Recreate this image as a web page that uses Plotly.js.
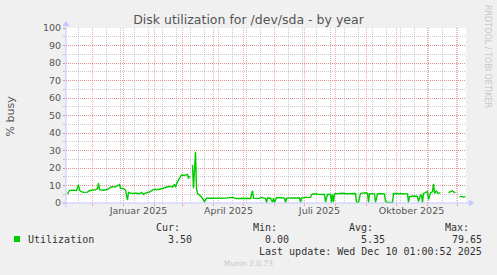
<!DOCTYPE html>
<html>
<head>
<meta charset="utf-8">
<script src="https://cdn.plot.ly/plotly-3.0.1.min.js"></script>
<style>
  html, body { margin: 0; padding: 0; background: #f0f0f0; }
  #chart { width: 497px; height: 275px; }
</style>
</head>
<body>
<div id="chart"></div>
<script>
// Disk busy percentage for /dev/sda, one sample per day (null = no data)
const day = [
  '2024-11-06','2024-11-07','2024-11-08','2024-11-12','2024-11-15','2024-11-17','2024-11-18','2024-11-20',
  '2024-11-22','2024-11-26','2024-11-28','2024-12-01','2024-12-04','2024-12-06','2024-12-07','2024-12-08',
  '2024-12-12','2024-12-16','2024-12-18','2024-12-20','2024-12-24','2024-12-26','2024-12-28','2024-12-29',
  '2025-01-01','2025-01-03','2025-01-05','2025-01-06','2025-01-09','2025-01-14','2025-01-17','2025-01-19',
  '2025-01-21','2025-01-23','2025-01-27','2025-01-31','2025-02-05','2025-02-09','2025-02-12','2025-02-14',
  '2025-02-17','2025-02-19','2025-02-21','2025-02-22','2025-02-24','2025-02-26','2025-02-28','2025-03-03',
  '2025-03-05','2025-03-06','2025-03-07','2025-03-08','2025-03-10','2025-03-11','2025-03-12','2025-03-14',
  '2025-03-15','2025-03-16','2025-03-20','2025-03-23','2025-03-25','2025-03-30','2025-04-06','2025-04-13',
  '2025-04-20','2025-04-24','2025-04-30','2025-05-05','2025-05-08','2025-05-10','2025-05-11','2025-05-16',
  '2025-05-19','2025-05-23','2025-05-24','2025-05-25','2025-05-28','2025-05-30','2025-05-31','2025-06-01',
  '2025-06-03','2025-06-07','2025-06-11','2025-06-12','2025-06-13','2025-06-18','2025-06-23','2025-06-26',
  '2025-06-27','2025-06-28','2025-07-02','2025-07-07','2025-07-08','2025-07-10','2025-07-15','2025-07-19',
  '2025-07-21','2025-07-22','2025-07-24','2025-07-27','2025-07-28','2025-07-29','2025-07-30','2025-07-31',
  '2025-08-03','2025-08-08','2025-08-12','2025-08-16','2025-08-21','2025-08-22','2025-08-24','2025-08-26',
  '2025-08-30','2025-09-01','2025-09-02','2025-09-03','2025-09-04','2025-09-08','2025-09-09','2025-09-10',
  '2025-09-12','2025-09-18','2025-09-19','2025-09-20','2025-09-22','2025-09-25','2025-09-27','2025-09-28',
  '2025-10-02','2025-10-07','2025-10-12','2025-10-13','2025-10-14','2025-10-18','2025-10-22','2025-10-23',
  '2025-10-25','2025-10-26','2025-10-27','2025-10-28','2025-10-30','2025-11-01','2025-11-02','2025-11-04',
  '2025-11-06','2025-11-07','2025-11-08','2025-11-10','2025-11-11','2025-11-14','2025-11-18','2025-11-22',
  '2025-11-24','2025-11-26','2025-11-28','2025-11-29','2025-12-01','2025-12-03','2025-12-05','2025-12-07',
  '2025-12-09'
];
const busy = [
  5.1, 6.5, 7.2, 7.3, 7.2, 10.5, 7.2, 6.5,
  6.1, 6.2, 7.0, 7.4, 7.6, 8.2, 11.4, 7.6,
  7.3, 7.8, 8.4, 9.3, 9.2, 9.8, 10.5, 8.4,
  8.2, 7.4, 1.7, 6.0, 5.5, 5.6, 5.3, 6.0,
  4.9, 5.7, 6.3, 7.8, 7.7, 8.3, 9.0, 9.3,
  9.5, 9.0, 10.7, 9.0, 12.2, 14.0, 16.0, 15.8,
  16.2, 16.4, 14.0, 15.5, null, 21.7, 8.5, 29.3,
  8.4, 5.5, 3.4, 0.8, 2.8, 2.7, 2.6, 2.8,
  3.2, 2.5, 2.7, 2.4, 2.6, 7.0, 2.8, 2.5,
  3.2, 2.6, 0.3, 2.8, 2.7, 0.5, 2.8, 0.3,
  3.0, 3.0, 2.8, 0.3, 2.8, 2.9, 2.7, 2.9,
  0.4, 2.8, 3.2, 3.2, 4.6, 5.3, 5.0, 5.1,
  4.9, 0.5, 4.9, 5.0, 0.3, 4.9, 0.5, 5.2,
  5.5, 5.6, 5.3, 5.5, 5.4, 0.4, 0.3, 5.5,
  5.7, 5.9, 5.5, 0.3, 5.3, 5.4, 5.2, 0.3,
  5.3, 5.3, 5.2, 0.8, 0.3, 0.3, 0.3, 5.4,
  5.3, 5.4, 5.2, 0.3, 3.6, 4.0, 3.8, 0.8,
  4.6, 4.4, 0.4, 5.5, 5.8, 6.5, 2.0, 5.8,
  6.5, 10.9, 5.5, 7.0, 5.6, 5.8, null, 5.9,
  6.3, 7.0, 6.0, 5.9, null, 3.6, 3.8, 3.4,
  3.5
];

// Quarter labels on the time axis
const quarterDates = ['2025-01-16', '2025-04-16', '2025-07-16', '2025-10-16'];
const quarterLabels = ['Januar 2025', 'April 2025', 'Juli 2025', 'Oktober 2025'];

// Y axis ticks
const busyTicks = [0, 10, 20, 30, 40, 50, 60, 70, 80, 90, 100];

// Legend summary
const statNames = ['Cur:', 'Min:', 'Avg:', 'Max:'];
const statValues = ['3.50', '0.00', '5.35', '79.65'];
const seriesName = 'Utilization';
const lastUpdate = 'Last update: Wed Dec 10 01:00:52 2025';

// Time-axis grid: month starts (major) and fortnightly lines (minor)
const isoDay = d => d.toISOString().slice(0, 10);
const monthStarts = [];
for (let m = 0; m < 13; m++) monthStarts.push(isoDay(new Date(Date.UTC(2024, 11 + m, 1))));
const fortnights = [];
for (let t = Date.UTC(2024, 10, 17); t < Date.UTC(2025, 11, 10); t += 14 * 86400000) fortnights.push(isoDay(new Date(t)));

// Canvas geometry (pixels)
const L = 66, T = 28, W = 400, H = 175;
const px = x => (x - L) / W;
const py = y => (T + H - y) / H;

const GREEN = '#00cc00';
const AXIS = '#c4c8ff';
const MGRID = 'rgba(240,110,110,0.6)';
const GRID = 'rgba(150,150,150,0.5)';
const TXT = '#555555';
const MONO = '"DejaVu Sans Mono", monospace';
const SANS = '"DejaVu Sans", sans-serif';

const traces = [
  {
    x: day, y: busy, type: 'scatter', mode: 'lines',
    line: { color: GREEN, width: 1.4 },
    connectgaps: false, hoverinfo: 'skip', showlegend: false
  },
  { x: [quarterDates[0]], y: [null], xaxis: 'x2', type: 'scatter', mode: 'lines', showlegend: false, hoverinfo: 'skip' }
];

// 400 days across 400 px; half-day offset keeps midnight on pixel centres
const xRange = ['2024-11-04 12:00', '2025-12-09 12:00'];

const annotations = [];
function txt(text, x, y, opts) {
  annotations.push(Object.assign({
    text, x: px(x), y: py(y), xref: 'paper', yref: 'paper',
    showarrow: false, yanchor: 'middle', borderpad: 0,
    font: { family: MONO, size: 10, color: '#333' }
  }, opts));
}

txt('% busy', 10, 115.5, { textangle: -90, xanchor: 'center', font: { family: SANS, size: 11, color: TXT } });
txt('RRDTOOL / TOBI OETIKER', 488, 56, { textangle: 90, xanchor: 'center', font: { family: SANS, size: 8, color: '#c8c8c8' } });
txt(seriesName, 27, 239.5, { xanchor: 'left' });
const headRight = [181, 278, 374, 470];
const valRight = [193, 290, 386, 483];
statNames.forEach((s, i) => txt(s, headRight[i], 227.5, { xanchor: 'right' }));
statValues.forEach((s, i) => txt(s, valRight[i], 239.5, { xanchor: 'right' }));
txt(lastUpdate, 483, 251.5, { xanchor: 'right' });
txt('Munin 2.0.73', 248, 263.5, { xanchor: 'center', font: { family: SANS, size: 7.5, color: '#c8c8c8' } });

// Vertical grid lines drawn at their dates on the x scale
const vline = (d, color) => ({
  type: 'line', xref: 'x', yref: 'paper', x0: d, x1: d, y0: 0, y1: 1, layer: 'below',
  line: { color, width: 1, dash: '1px,1px' }
});

const shapes = [
  ...fortnights.filter(d => !monthStarts.includes(d)).map(d => vline(d, GRID)),
  ...monthStarts.map(d => vline(d, MGRID)),
  // legend swatch
  { type: 'rect', xref: 'paper', yref: 'paper', x0: px(14), x1: px(20), y0: py(242), y1: py(236),
    fillcolor: GREEN, line: { width: 0 } },
  // axis lines with arrow heads
  { type: 'line', xref: 'paper', yref: 'paper', x0: px(62), x1: px(470), y0: 0, y1: 0,
    line: { color: AXIS, width: 1 } },
  { type: 'path', xref: 'paper', yref: 'paper',
    path: `M${px(469)},${py(199.5)} L${px(474)},${py(203)} L${px(469)},${py(206.5)} Z`,
    fillcolor: AXIS, line: { width: 0 } },
  { type: 'line', xref: 'paper', yref: 'paper', x0: 0, x1: 0, y0: py(207), y1: py(25),
    line: { color: AXIS, width: 1 } },
  { type: 'path', xref: 'paper', yref: 'paper',
    path: `M${px(62.5)},${py(26)} L${px(66)},${py(21)} L${px(69.5)},${py(26)} Z`,
    fillcolor: AXIS, line: { width: 0 } }
];

const layout = {
  width: 497, height: 275,
  margin: { l: L, r: 497 - L - W, t: T, b: 275 - T - H, pad: 0 },
  paper_bgcolor: '#f0f0f0', plot_bgcolor: '#ffffff',
  showlegend: false,
  title: {
    text: 'Disk utilization for /dev/sda - by year',
    font: { family: SANS, size: 12.5, color: TXT },
    x: 0.5, xref: 'container', xanchor: 'center',
    y: 1 - 19.5 / 275, yref: 'container', yanchor: 'middle'
  },
  xaxis: {
    type: 'date', range: xRange,
    tickmode: 'array', tickvals: monthStarts,
    showticklabels: false, showgrid: false,
    ticks: 'outside', ticklen: 2, tickcolor: MGRID,
    showline: false, zeroline: false, fixedrange: true
  },
  xaxis2: {
    type: 'date', overlaying: 'x', matches: 'x', anchor: 'y', side: 'bottom', range: xRange,
    tickmode: 'array', tickvals: quarterDates, ticktext: quarterLabels,
    ticks: '', showgrid: false, showline: false, zeroline: false,
    tickfont: { family: SANS, size: 9.5, color: TXT }
  },
  yaxis: {
    range: [0, 100], tickmode: 'array', tickvals: busyTicks,
    showgrid: true, gridcolor: MGRID, griddash: '1px,1px',
    ticks: 'outside', ticklen: 2, tickcolor: MGRID,
    minor: { dtick: 5, showgrid: true, gridcolor: GRID, griddash: '1px,1px',
             ticks: 'outside', ticklen: 2, tickcolor: GRID },
    tickfont: { family: SANS, size: 9.5, color: TXT },
    showline: false, zeroline: false, fixedrange: true
  },
  shapes, annotations
};

Plotly.newPlot('chart', traces, layout, { staticPlot: true, displayModeBar: false });
</script>
</body>
</html>
